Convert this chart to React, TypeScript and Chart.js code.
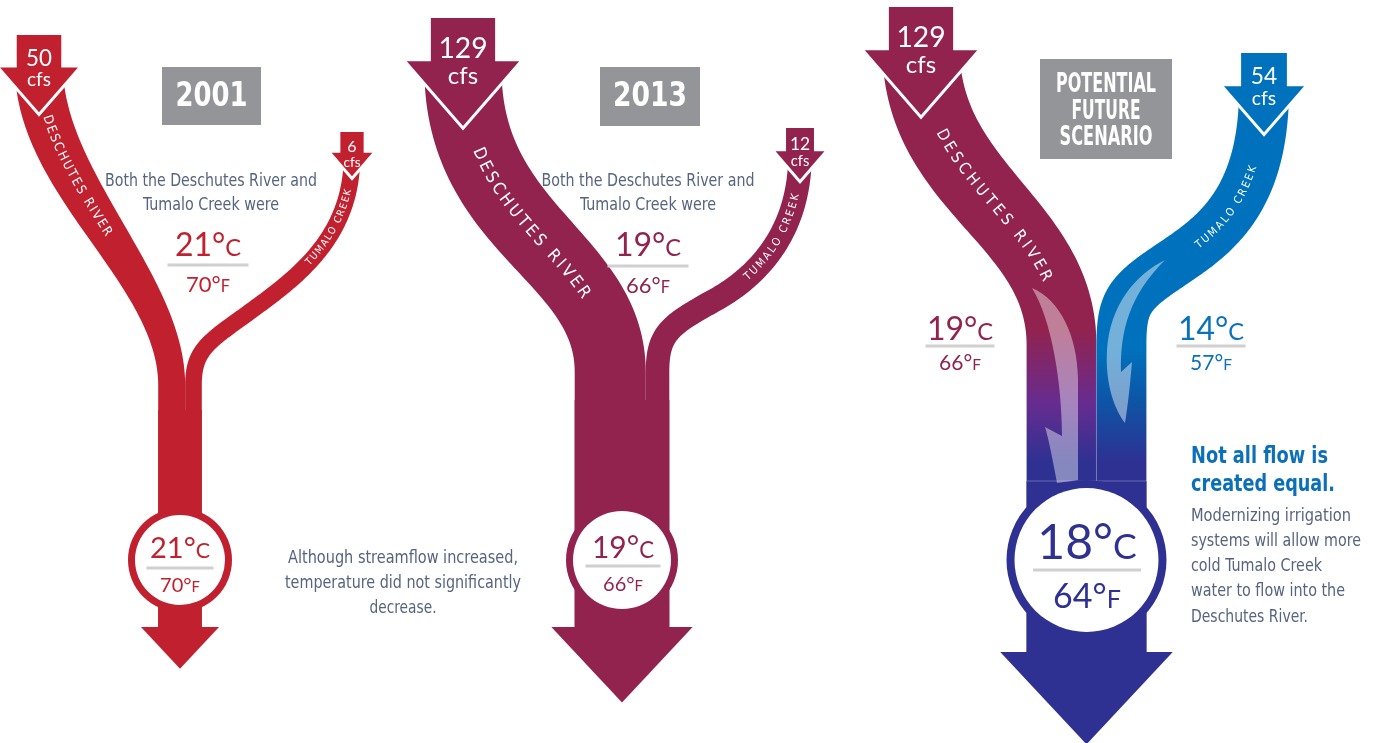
import React, { useEffect, useRef } from "react";
import { Chart, registerables } from "chart.js";

Chart.register(...registerables);

// ---------------- data ----------------
const scenarioTitles = ["2001", "2013", "POTENTIAL FUTURE SCENARIO"];
const deschutesCfs = [50, 129, 129];
const tumaloCfs = [6, 12, 54];
const deschutesTempC = [21, 19, 19];
const deschutesTempF = [70, 66, 66];
const tumaloTempC = [21, 19, 14];
const tumaloTempF = [70, 66, 57];
const mixedTempC = [21, 19, 18];
const mixedTempF = [70, 66, 64];
const riverNames = ["DESCHUTES RIVER", "TUMALO CREEK"];
const flowUnit = "cfs";
const sharedNote = ["Both the Deschutes River and", "Tumalo Creek were"];
const note2001 = ["Although streamflow increased,", "temperature did not significantly", "decrease."];
const futureHeadline = ["Not all flow is", "created equal."];
const futureNote = [
  "Modernizing irrigation",
  "systems will allow more",
  "cold Tumalo Creek",
  "water to flow into the",
  "Deschutes River.",
];

// ---------------- styles / layout ----------------
const FONT_NARROW = "'DejaVu Sans Condensed', 'Liberation Sans Narrow', 'Roboto', sans-serif";
const FONT_TEMP = "'Lato', 'Noto Sans', sans-serif";
const RED = "#C1202F";
const MAROON = "#92234F";
const BLUE = "#0071BC";
const NAVY = "#2E3192";
const PURPLE = "#672C90";
const GRAY_BOX = "#939598";
const TEXT_SLATE = "#56647F";
const RULE = "#D0D0D0";
const E = -1; // placeholder: x computed from flows (end of tributary in trunk)

type P = [number, number];

const LAYOUT: any[] = [
  {
    dColor: RED, tColor: RED, trunkColor: RED,
    trunkX: 180, trunkTopY: 410, baseY: 627,
    dArrow: { x: 39, top: 35 }, tArrow: { x: 352, top: 132 },
    dSegs: [[[42, 185], [E, 280], [E, 385]]],
    tSegs: [[[352, 235], [300, 275], [255, 308]], [[210, 341], [E, 348], [E, 385]]],
    dLabel: { s0: 46, len: 135, size: 13 }, tLabel: { s0: 34, len: 86, size: 10 },
    box: { x: 162, y: 67, w: 99, h: 58, size: 33, lineY: [96], lineW: [72] },
    circle: { y: 560, r: 52, ring: 7, x: 180, cY: 548, cSize: 29, lineY: 568, lineHalf: 33.5, fY: 585, fSize: 20 },
    shared: { x: 211, y: [181, 205], w: [212, 136], size: 18 },
    sharedTemp: { x: 208, cY: 244, cSize: 32, lineY: 265, lineHalf: 40.5, fY: 284, fSize: 22 },
    side: { x: 403, y: [558, 583, 608], w: [230, 236, 67], size: 18 },
  },
  {
    dColor: MAROON, tColor: MAROON, trunkColor: MAROON,
    trunkX: 622, trunkTopY: 400, baseY: 627,
    dArrow: { x: 463, top: 18 }, tArrow: { x: 800, top: 128 },
    dSegs: [[[460, 230], [E, 255], [E, 372]]],
    tSegs: [[[800, 230], [760, 275], [715, 300]], [[670, 325], [E, 333], [E, 372]]],
    dLabel: { s0: 86, len: 185, size: 17 }, tLabel: { s0: 40, len: 100, size: 11 },
    box: { x: 600, y: 67, w: 100, h: 59, size: 33, lineY: [96], lineW: [74] },
    circle: { y: 560, r: 56, ring: 7, x: 623, cY: 547, cSize: 30, lineY: 566, lineHalf: 37.5, fY: 584, fSize: 20 },
    shared: { x: 648, y: [181, 205], w: [213, 136], size: 18 },
    sharedTemp: { x: 648, cY: 244, cSize: 32, lineY: 266, lineHalf: 40.5, fY: 285, fSize: 22 },
  },
  {
    dColor: MAROON, tColor: BLUE, trunkColor: NAVY, blend: true,
    trunkX: 1086.5, trunkTopY: 481, baseY: 652,
    dArrow: { x: 921, top: 7 }, tArrow: { x: 1264, top: 53 },
    dSegs: [[[925, 190], [E, 222], [E, 345]]],
    tSegs: [[[1264, 200], [1215, 235], [1175, 262]], [[1130, 292], [E, 300], [E, 345]]],
    dLabel: { s0: 80, len: 185, size: 16 }, tLabel: { s0: 78, len: 100, size: 11 },
    box: { x: 1040, y: 59, w: 132, h: 100, size: 27, lineY: [84, 111, 137], lineW: [100, 69, 93] },
    circle: { y: 560, r: 80, ring: 8, x: 1087, cY: 542, cSize: 48, lineY: 570, lineHalf: 54, fY: 596, fSize: 34 },
    dTemp: { x: 960, cY: 328, cSize: 32, lineY: 346, lineHalf: 34.5, fY: 362, fSize: 21 },
    tTemp: { x: 1211, cY: 328, cSize: 32, lineY: 346, lineHalf: 34.5, fY: 362, fSize: 21 },
    gradD: [330, 462], gradT: [350, 462],
    swooshD: [
      ["M", 1032, 288], ["C", 1060, 300, 1077, 335, 1078, 378], ["L", 1078, 480], ["L", 1057, 483],
      ["C", 1053, 462, 1049, 440, 1045, 427], ["L", 1062, 436], ["C", 1062, 385, 1052, 320, 1032, 288],
    ],
    swooshT: [
      ["M", 1165, 260], ["C", 1135, 275, 1110, 305, 1107, 350], ["C", 1105, 385, 1115, 410, 1125, 423],
      ["C", 1128, 405, 1130, 385, 1132, 362], ["L", 1121, 372], ["C", 1120, 330, 1130, 295, 1165, 260],
    ],
    headline: { x: 1191, y: [457, 485], w: [137, 144], size: 23 },
    note: { x: 1191, y: [517, 542, 567, 592, 618], w: [160, 170, 131, 154, 117], size: 17 },
  },
];

// ---------------- geometry helpers ----------------
const bandWidth = (cfs: number) => 6.8 * Math.sqrt(cfs);
const trunkWidth = (cfs: number) => 10 + 0.6 * cfs;
const shaftWidth = (cfs: number) => 12 + 4.6 * Math.sqrt(cfs);

function cubicPts(p0: P, p1: P, p2: P, p3: P, n: number): P[] {
  const out: P[] = [];
  for (let k = 1; k <= n; k++) {
    const t = k / n, u = 1 - t;
    const a = u * u * u, b = 3 * u * u * t, c = 3 * u * t * t, d = t * t * t;
    out.push([a * p0[0] + b * p1[0] + c * p2[0] + d * p3[0], a * p0[1] + b * p1[1] + c * p2[1] + d * p3[1]]);
  }
  return out;
}

function buildPath(start: P, segs: any[], endX: number, bottomY: number) {
  const pts: P[] = [start];
  let cur = start;
  for (const seg of segs) {
    const [c1, c2, e] = seg.map((p: P) => [p[0] === E ? endX : p[0], p[1]] as P);
    pts.push(...cubicPts(cur, c1, c2, e, 70));
    cur = e;
  }
  const curveN = pts.length;
  for (let y = cur[1] + 5; y < bottomY; y += 5) pts.push([endX, y]);
  pts.push([endX, bottomY]);
  return { pts, curveN };
}

function cumLen(pts: P[]) {
  const cum = [0];
  for (let i = 1; i < pts.length; i++) cum.push(cum[i - 1] + Math.hypot(pts[i][0] - pts[i - 1][0], pts[i][1] - pts[i - 1][1]));
  return cum;
}

function tangentAt(pts: P[], i: number): P {
  const a = pts[Math.max(0, i - 1)], b = pts[Math.min(pts.length - 1, i + 1)];
  const dx = b[0] - a[0], dy = b[1] - a[1];
  const l = Math.hypot(dx, dy) || 1;
  return [dx / l, dy / l];
}

function pointAt(pts: P[], cum: number[], s: number) {
  let i = 1;
  while (i < cum.length - 1 && cum[i] < s) i++;
  const seg = cum[i] - cum[i - 1] || 1;
  const f = Math.max(0, Math.min(1, (s - cum[i - 1]) / seg));
  const p: P = [pts[i - 1][0] + (pts[i][0] - pts[i - 1][0]) * f, pts[i - 1][1] + (pts[i][1] - pts[i - 1][1]) * f];
  return { p, t: tangentAt(pts, i) };
}

function fillBand(ctx: CanvasRenderingContext2D, pts: P[], curveN: number, cum: number[], w0: number, w1: number, fill: any) {
  const curveLen = cum[curveN - 1];
  const left: P[] = [], right: P[] = [];
  pts.forEach((p, i) => {
    const t = tangentAt(pts, i);
    const n: P = [-t[1], t[0]];
    const f = i < curveN ? cum[i] / curveLen : 1;
    const s = f * f * (3 - 2 * f);
    const w = w0 + (w1 - w0) * s;
    left.push([p[0] + (n[0] * w) / 2, p[1] + (n[1] * w) / 2]);
    right.push([p[0] - (n[0] * w) / 2, p[1] - (n[1] * w) / 2]);
  });
  ctx.beginPath();
  left.forEach((p, i) => (i ? ctx.lineTo(p[0], p[1]) : ctx.moveTo(p[0], p[1])));
  for (let i = right.length - 1; i >= 0; i--) ctx.lineTo(right[i][0], right[i][1]);
  ctx.closePath();
  ctx.fillStyle = fill;
  ctx.fill();
}

function labelOnPath(ctx: CanvasRenderingContext2D, pts: P[], cum: number[], text: string, s0: number, len: number, size: number, reverse: boolean) {
  ctx.font = `${size}px ${FONT_NARROW}`;
  ctx.fillStyle = "#ffffff";
  ctx.textAlign = "center";
  ctx.textBaseline = "middle";
  const chars = [...text];
  const widths = chars.map((c) => ctx.measureText(c).width);
  const natural = widths.reduce((a, b) => a + b, 0);
  const gap = (len - natural) / (chars.length - 1);
  let off = 0;
  chars.forEach((ch, i) => {
    const mid = off + widths[i] / 2;
    const s = reverse ? s0 + len - mid : s0 + mid;
    const { p, t } = pointAt(pts, cum, s);
    let ang = Math.atan2(t[1], t[0]);
    if (reverse) ang += Math.PI;
    ctx.save();
    ctx.translate(p[0], p[1]);
    ctx.rotate(ang);
    ctx.fillText(ch, 0, 0);
    ctx.restore();
    off += widths[i] + gap;
  });
}

function fitText(ctx: CanvasRenderingContext2D, text: string, x: number, y: number, align: CanvasTextAlign, target?: number) {
  const nat = ctx.measureText(text).width;
  const sc = target ? Math.max(0.6, Math.min(1.25, target / nat)) : 1;
  ctx.save();
  ctx.translate(x, y);
  ctx.scale(sc, 1);
  ctx.textAlign = align;
  ctx.fillText(text, 0, 0);
  ctx.restore();
}

function drawTempBlock(ctx: CanvasRenderingContext2D, b: any, c: number, f: number, color: string, X: any, Y: any, K: number) {
  const row = (val: string, unit: string, size: number, cy: number) => {
    const big = size * K, small = big * 0.74;
    ctx.font = `${big}px ${FONT_TEMP}`;
    const w1 = ctx.measureText(val).width;
    ctx.font = `${small}px ${FONT_TEMP}`;
    const w2 = ctx.measureText(unit).width;
    const x0 = X(b.x) - (w1 + w2) / 2;
    const base = Y(cy) + big * 0.36;
    ctx.fillStyle = color;
    ctx.textAlign = "left";
    ctx.textBaseline = "alphabetic";
    ctx.font = `${big}px ${FONT_TEMP}`;
    ctx.fillText(val, x0, base);
    ctx.font = `${small}px ${FONT_TEMP}`;
    ctx.fillText(unit, x0 + w1, base);
  };
  row(`${c}°`, "C", b.cSize, b.cY);
  ctx.strokeStyle = RULE;
  ctx.lineWidth = 3 * K;
  ctx.beginPath();
  ctx.moveTo(X(b.x - b.lineHalf), Y(b.lineY));
  ctx.lineTo(X(b.x + b.lineHalf), Y(b.lineY));
  ctx.stroke();
  row(`${f}°`, "F", b.fSize, b.fY);
}

function drawTopArrow(ctx: CanvasRenderingContext2D, cfs: number, a: any, color: string, X: any, Y: any, K: number) {
  const sw = shaftWidth(cfs);
  const sh = 0.55 * sw + 8;
  const ww = 1.75 * sw;
  const hh = 1.15 * (ww / 2);
  const cx = X(a.x), top = Y(a.top);
  const poly: P[] = [
    [cx - (sw / 2) * K, top], [cx + (sw / 2) * K, top], [cx + (sw / 2) * K, top + sh * K],
    [cx + (ww / 2) * K, top + sh * K], [cx, top + (sh + hh) * K], [cx - (ww / 2) * K, top + sh * K],
    [cx - (sw / 2) * K, top + sh * K],
  ];
  ctx.beginPath();
  poly.forEach((p, i) => (i ? ctx.lineTo(p[0], p[1]) : ctx.moveTo(p[0], p[1])));
  ctx.closePath();
  ctx.lineJoin = "miter";
  ctx.miterLimit = 4;
  ctx.strokeStyle = "#ffffff";
  ctx.lineWidth = 6 * K;
  ctx.stroke();
  ctx.fillStyle = color;
  ctx.fill();
  const numSize = (0.3 * sw + 9) * K;
  const numY = top + 0.72 * sh * K;
  ctx.fillStyle = "#ffffff";
  ctx.textAlign = "center";
  ctx.textBaseline = "middle";
  ctx.font = `${numSize}px ${FONT_TEMP}`;
  ctx.fillText(String(cfs), cx, numY);
  ctx.font = `${numSize * 0.85}px ${FONT_TEMP}`;
  ctx.fillText(flowUnit, cx, numY + numSize * 0.95);
  return top + sh * K;
}

function tracePath(ctx: CanvasRenderingContext2D, cmds: any[], X: any, Y: any) {
  ctx.beginPath();
  cmds.forEach((c) => {
    if (c[0] === "M") ctx.moveTo(X(c[1]), Y(c[2]));
    else if (c[0] === "L") ctx.lineTo(X(c[1]), Y(c[2]));
    else ctx.bezierCurveTo(X(c[1]), Y(c[2]), X(c[3]), Y(c[4]), X(c[5]), Y(c[6]));
  });
  ctx.closePath();
}

function drawPanel(ctx: CanvasRenderingContext2D, L: any, i: number, X: any, Y: any, K: number) {
  const dCfs = deschutesCfs[i], tCfs = tumaloCfs[i];
  const tw = trunkWidth(dCfs + tCfs);
  const wD = bandWidth(dCfs), wT = bandWidth(tCfs);
  const dEnd = tw - wT;
  const trunkL = L.trunkX - tw / 2, trunkR = L.trunkX + tw / 2;
  const dEndX = trunkL + dEnd / 2;
  const tEndX = trunkR - wT / 2;

  const dShaft = shaftWidth(dCfs), tShaft = shaftWidth(tCfs);
  const dStart: P = [L.dArrow.x, L.dArrow.top + 0.55 * dShaft + 8 + 3];
  const tStart: P = [L.tArrow.x, L.tArrow.top + 0.55 * tShaft + 8 + 3];
  const dPath = buildPath(dStart, L.dSegs, dEndX, L.baseY);
  const tPath = buildPath(tStart, L.tSegs, tEndX, L.baseY);
  const toPx = (pts: P[]) => pts.map((p) => [X(p[0]), Y(p[1])] as P);
  const dPx = toPx(dPath.pts), tPx = toPx(tPath.pts);
  const dCum = cumLen(dPx), tCum = cumLen(tPx);

  let dFill: any = L.dColor, tFill: any = L.tColor;
  if (L.blend) {
    const gD = ctx.createLinearGradient(0, Y(L.gradD[0]), 0, Y(L.gradD[1]));
    gD.addColorStop(0, MAROON);
    gD.addColorStop(0.55, PURPLE);
    gD.addColorStop(1, NAVY);
    dFill = gD;
    const gT = ctx.createLinearGradient(0, Y(L.gradT[0]), 0, Y(L.gradT[1]));
    gT.addColorStop(0, BLUE);
    gT.addColorStop(0.45, "#0D55A6");
    gT.addColorStop(1, NAVY);
    tFill = gT;
  }
  fillBand(ctx, dPx, dPath.curveN, dCum, wD * K, dEnd * K, dFill);
  fillBand(ctx, tPx, tPath.curveN, tCum, wT * K, wT * K, tFill);

  // trunk
  ctx.fillStyle = L.trunkColor;
  ctx.fillRect(X(trunkL), Y(L.trunkTopY), tw * K, Y(L.baseY) - Y(L.trunkTopY) + 1);
  const half = 0.62 * tw + 12;
  ctx.beginPath();
  ctx.moveTo(X(L.trunkX - half), Y(L.baseY));
  ctx.lineTo(X(L.trunkX + half), Y(L.baseY));
  ctx.lineTo(X(L.trunkX), Y(L.baseY + half * 1.07));
  ctx.closePath();
  ctx.fill();

  if (L.blend) {
    const splitX = trunkL + dEnd;
    ctx.strokeStyle = "rgba(255,255,255,0.28)";
    ctx.lineWidth = 1;
    ctx.beginPath();
    ctx.moveTo(X(trunkL), Y(L.trunkTopY));
    ctx.lineTo(X(trunkR), Y(L.trunkTopY));
    ctx.stroke();
    ctx.strokeStyle = "rgba(255,255,255,0.14)";
    ctx.beginPath();
    ctx.moveTo(X(splitX), Y(330));
    ctx.lineTo(X(splitX), Y(L.trunkTopY));
    ctx.stroke();
    ctx.fillStyle = "rgba(255,255,255,0.42)";
    tracePath(ctx, L.swooshD, X, Y);
    ctx.fill();
    ctx.fillStyle = "rgba(255,255,255,0.45)";
    tracePath(ctx, L.swooshT, X, Y);
    ctx.fill();
  }

  // circle
  const c = L.circle;
  ctx.fillStyle = L.trunkColor;
  ctx.beginPath();
  ctx.arc(X(L.trunkX), Y(c.y), c.r * K, 0, Math.PI * 2);
  ctx.fill();
  ctx.fillStyle = "#ffffff";
  ctx.beginPath();
  ctx.arc(X(L.trunkX), Y(c.y), (c.r - c.ring) * K, 0, Math.PI * 2);
  ctx.fill();
  drawTempBlock(ctx, c, mixedTempC[i], mixedTempF[i], L.trunkColor, X, Y, K);

  // river labels
  labelOnPath(ctx, dPx, dCum, riverNames[0], L.dLabel.s0 * K, L.dLabel.len * K, L.dLabel.size * K, false);
  labelOnPath(ctx, tPx, tCum, riverNames[1], L.tLabel.s0 * K, L.tLabel.len * K, L.tLabel.size * K, true);

  // top arrows
  drawTopArrow(ctx, dCfs, L.dArrow, L.dColor, X, Y, K);
  drawTopArrow(ctx, tCfs, L.tArrow, L.tColor, X, Y, K);

  // title box
  const b = L.box;
  ctx.fillStyle = GRAY_BOX;
  ctx.fillRect(X(b.x), Y(b.y), b.w * K, b.h * K);
  ctx.fillStyle = "#ffffff";
  ctx.textBaseline = "middle";
  ctx.font = `bold ${b.size * K}px ${FONT_NARROW}`;
  const titleLines = i === 2 ? scenarioTitles[i].split(" ") : [scenarioTitles[i]];
  titleLines.forEach((t, k) => fitText(ctx, t, X(b.x + b.w / 2), Y(b.lineY[k]) + 1, "center", b.lineW[k] * K));

  // texts
  if (L.shared) {
    ctx.fillStyle = TEXT_SLATE;
    ctx.font = `${L.shared.size * K}px ${FONT_NARROW}`;
    ctx.textBaseline = "middle";
    sharedNote.forEach((t, k) => fitText(ctx, t, X(L.shared.x), Y(L.shared.y[k]), "center", L.shared.w[k] * K));
    drawTempBlock(ctx, L.sharedTemp, deschutesTempC[i], deschutesTempF[i], L.dColor, X, Y, K);
  }
  if (L.side) {
    ctx.fillStyle = TEXT_SLATE;
    ctx.font = `${L.side.size * K}px ${FONT_NARROW}`;
    ctx.textBaseline = "middle";
    note2001.forEach((t, k) => fitText(ctx, t, X(L.side.x), Y(L.side.y[k]), "center", L.side.w[k] * K));
  }
  if (L.dTemp) {
    drawTempBlock(ctx, L.dTemp, deschutesTempC[i], deschutesTempF[i], MAROON, X, Y, K);
    drawTempBlock(ctx, L.tTemp, tumaloTempC[i], tumaloTempF[i], "#0A71BC", X, Y, K);
  }
  if (L.headline) {
    ctx.fillStyle = "#0B70B8";
    ctx.font = `bold ${L.headline.size * K}px ${FONT_NARROW}`;
    ctx.textBaseline = "middle";
    futureHeadline.forEach((t, k) => fitText(ctx, t, X(L.headline.x), Y(L.headline.y[k]), "left", L.headline.w[k] * K));
    ctx.fillStyle = TEXT_SLATE;
    ctx.font = `${L.note.size * K}px ${FONT_NARROW}`;
    futureNote.forEach((t, k) => fitText(ctx, t, X(L.note.x), Y(L.note.y[k]), "left", L.note.w[k] * K));
  }
}

const riverPlugin = {
  id: "riverInfographic",
  afterDraw(chart: any) {
    const ctx: CanvasRenderingContext2D = chart.ctx;
    const sx = chart.scales.x, sy = chart.scales.y;
    const X = (v: number) => sx.getPixelForValue(v);
    const Y = (v: number) => sy.getPixelForValue(v);
    const K = Math.abs(X(1) - X(0));
    ctx.save();
    ctx.fillStyle = "#ffffff";
    ctx.fillRect(0, 0, chart.width, chart.height);
    LAYOUT.forEach((L, i) => drawPanel(ctx, L, i, X, Y, K));
    ctx.restore();
  },
};

export default function App() {
  const ref = useRef<HTMLCanvasElement>(null);
  useEffect(() => {
    document.body.style.margin = "0";
    const chart = new Chart(ref.current as HTMLCanvasElement, {
      type: "scatter",
      data: { datasets: [] },
      options: {
        animation: false,
        responsive: true,
        maintainAspectRatio: false,
        layout: { padding: 0 },
        plugins: { legend: { display: false }, tooltip: { enabled: false } },
        scales: {
          x: { type: "linear", min: 0, max: 1380, display: false },
          y: { type: "linear", min: 0, max: 743, reverse: true, display: false },
        },
      },
      plugins: [riverPlugin],
    });
    return () => chart.destroy();
  }, []);
  return (
    <div style={{ position: "absolute", left: 0, top: 0, width: 1380, height: 743, background: "#fff" }}>
      <canvas ref={ref} />
    </div>
  );
}
